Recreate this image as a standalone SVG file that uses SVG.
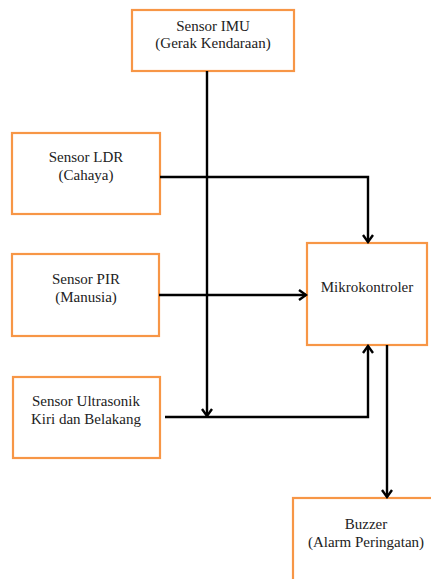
<svg xmlns="http://www.w3.org/2000/svg" width="431" height="579" viewBox="0 0 431 579">
<defs>
<style>
.box{fill:#fff;stroke:#F79646;stroke-width:2.2}
.t{font-family:'Liberation Serif','DejaVu Serif',serif;font-size:15px;fill:#222;text-anchor:middle}
.c{fill:none;stroke:#000;stroke-width:2.4}
</style>
<marker id="ah" markerWidth="12" markerHeight="12" viewBox="0 0 12 12" refX="10" refY="6" orient="auto" markerUnits="userSpaceOnUse">
<path d="M3,1 L10,6 L3,11" fill="none" stroke="#000" stroke-width="2.4"/>
</marker>
</defs>
<rect width="431" height="579" fill="#fff"/>
<g id="imu"><rect class="box" x="132" y="10" width="162" height="61"/><text class="t" x="213" y="31">Sensor IMU</text><text class="t" x="213" y="48">(Gerak Kendaraan)</text></g>
<g id="ldr"><rect class="box" x="12" y="133" width="148" height="81"/><text class="t" x="86" y="162">Sensor LDR</text><text class="t" x="86" y="180">(Cahaya)</text></g>
<g id="pir"><rect class="box" x="12" y="254" width="147" height="82"/><text class="t" x="86" y="284">Sensor PIR</text><text class="t" x="86" y="302">(Manusia)</text></g>
<g id="ultra"><rect class="box" x="13" y="377" width="147" height="81"/><text class="t" x="86" y="406">Sensor Ultrasonik</text><text class="t" x="86" y="424">Kiri dan Belakang</text></g>
<g id="mikro"><rect class="box" x="307" y="243" width="120" height="102"/><text class="t" x="367" y="292">Mikrokontroler</text></g>
<g id="buzzer"><rect class="box" x="293" y="498" width="145" height="90"/><text class="t" x="366" y="529">Buzzer</text><text class="t" x="366" y="547">(Alarm Peringatan)</text></g>
<g id="connectors">
<path class="c" d="M207,71 V416" marker-end="url(#ah)"/>
<path class="c" d="M160,177 H368 V242" marker-end="url(#ah)"/>
<path class="c" d="M159,295 H306" marker-end="url(#ah)"/>
<path class="c" d="M165,417 H368 V346" marker-end="url(#ah)"/>
<path class="c" d="M387,345 V497" marker-end="url(#ah)"/>
</g>
</svg>
